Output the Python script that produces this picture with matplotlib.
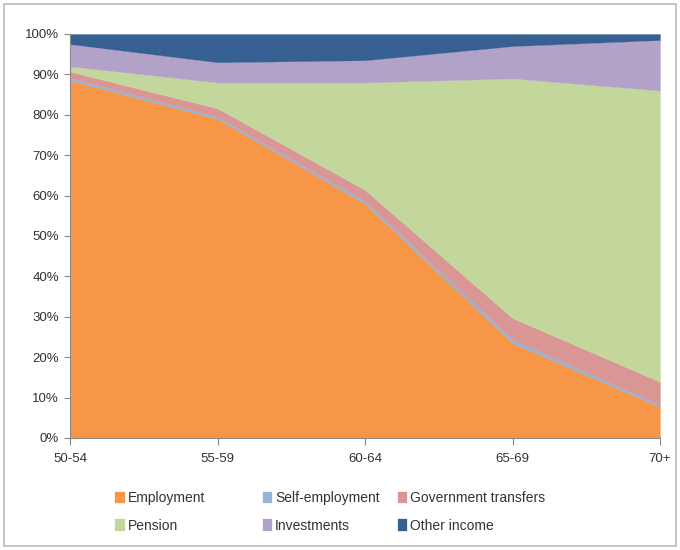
import numpy as np
import matplotlib.pyplot as plt
from matplotlib.patches import Rectangle

ages = ["50-54", "55-59", "60-64", "65-69", "70+"]
employment = [88.5, 79.0, 58.0, 23.5, 7.7]
self_employment = [0.6, 0.5, 0.6, 0.9, 0.5]
gov_transfers = [1.6, 2.1, 2.8, 5.3, 5.7]
pension = [1.3, 6.4, 26.6, 59.3, 72.1]
investments = [5.5, 5.0, 5.5, 8.0, 12.5]
other_income = [2.5, 7.0, 6.5, 3.0, 1.5]

names = ["Employment", "Self-employment", "Government transfers",
         "Pension", "Investments", "Other income"]
colors = ["#F79646", "#95B3D7", "#D99694", "#C3D69B", "#B3A2C7", "#376092"]

plt.rcParams["font.family"] = ["Liberation Sans", "DejaVu Sans"]
fig = plt.figure(figsize=(6.8, 5.5), dpi=100)
ax = fig.add_axes([70 / 680, 112 / 550, 590 / 680, 404 / 550])

x = np.arange(len(ages))
data = np.array([employment, self_employment, gov_transfers,
                 pension, investments, other_income])
polys = ax.stackplot(x, data, colors=colors, labels=names, linewidth=0.2)
for p, c in zip(polys, colors):
    p.set_edgecolor(c)

ax.set_xlim(0, len(ages) - 1)
ax.set_ylim(0, 100)
ax.set_xticks(x)
ax.set_xticklabels(ages, fontsize=9.5)
ax.set_yticks(np.arange(0, 101, 10))
ax.set_yticklabels([f"{v}%" for v in range(0, 101, 10)], fontsize=9.5)
ax.tick_params(axis="x", direction="out", length=5, color="#888888", pad=6,
               labelcolor="#333333")
ax.tick_params(axis="y", direction="out", length=4, color="#888888", pad=4,
               labelcolor="#333333")
for s in ["top", "right"]:
    ax.spines[s].set_visible(False)
ax.spines["left"].set_color("#888888")
ax.spines["bottom"].set_color("#888888")

# legend laid out as three columns, row-major like the original
handles, labels = ax.get_legend_handles_labels()
col_x = [103, 250, 385]
for ci in range(3):
    idx = [ci, ci + 3]
    fig.legend([handles[i] for i in idx], [labels[i] for i in idx],
               loc="center left", bbox_to_anchor=(col_x[ci] / 680, 38 / 550),
               ncol=1, frameon=False, fontsize=10, handlelength=0.7,
               handleheight=0.9, handletextpad=0.2, labelspacing=0.95,
               labelcolor="#333333")

fig.patches.append(Rectangle((4 / 680, 4 / 550), 672 / 680, 542 / 550,
                             transform=fig.transFigure, fill=False,
                             edgecolor="#bbbbbb", linewidth=1.2))

fig.savefig("out.png", dpi=100)
